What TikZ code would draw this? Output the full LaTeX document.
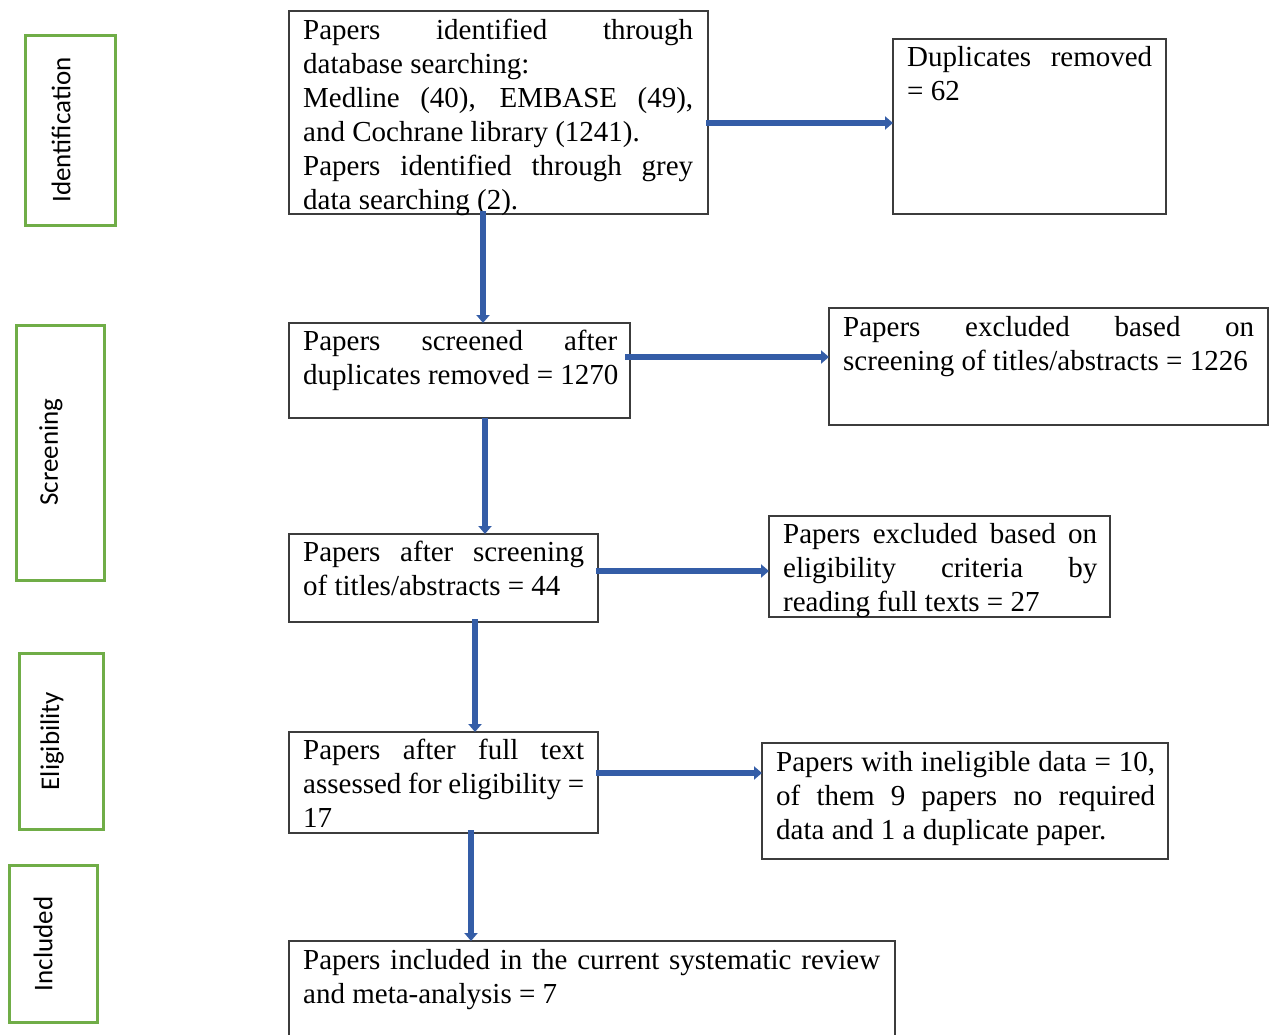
\documentclass[tikz,border=0pt]{standalone}
\usepackage{fontspec}
\setmainfont{Liberation Serif}
\newfontfamily\stagefont{Carlito}
\usetikzlibrary{arrows.meta}
\definecolor{boxgray}{RGB}{60,60,60}
\definecolor{stagegreen}{RGB}{112,173,71}
\definecolor{arrowblue}{RGB}{52,93,167}
\newcommand{\jl}[1]{{\spaceskip=0pt\xspaceskip=0pt\makebox[\hsize][s]{#1}}}
\newcommand{\nl}[1]{{\spaceskip=0pt\xspaceskip=0pt\mbox{#1}}}
\begin{document}
\begin{tikzpicture}[x=1pt,y=-1pt,
  box/.style={draw=boxgray,line width=1.3pt,inner sep=0pt,outer sep=0pt,anchor=north west},
  stagebox/.style={draw=stagegreen,line width=3pt,inner sep=0pt,outer sep=0pt,anchor=north west},
  txt/.style={inner sep=0pt,anchor=base west,align=left,font=\fontsize{29}{34}\selectfont},
  stagetxt/.style={inner sep=0pt,rotate=90,font=\stagefont\fontsize{27}{32}\selectfont},
  arr/.style={draw=arrowblue,line width=6pt,-{Triangle[width=13pt,length=8pt]}}]
\useasboundingbox (0,0) rectangle (1269,1035);

% stage boxes
\node[stagebox,minimum width=90pt,minimum height=190pt] (S1) at (25,36) {};
\node[stagetxt] (S1t) at (61,130) {Identification};
\node[stagebox,minimum width=88pt,minimum height=255pt] (S2) at (16,325) {};
\node[stagetxt] (S2t) at (51,452) {Screening};
\node[stagebox,minimum width=84pt,minimum height=176pt] (S3) at (19,653) {};
\node[stagetxt] (S3t) at (52,741) {Eligibility};
\node[stagebox,minimum width=88pt,minimum height=157pt] (S4) at (9,865) {};
\node[stagetxt] (S4t) at (43,944) {Included};

% main boxes
\node[box,minimum width=419pt,minimum height=203pt] (A) at (289,11) {};
\node[box,minimum width=273pt,minimum height=175pt] (B) at (893,39) {};
\node[box,minimum width=341pt,minimum height=95pt] (C) at (289,323) {};
\node[box,minimum width=439pt,minimum height=117pt] (D) at (829,308) {};
\node[box,minimum width=309pt,minimum height=88pt] (E) at (289,534) {};
\node[box,minimum width=341pt,minimum height=101pt] (F) at (769,516) {};
\node[box,minimum width=309pt,minimum height=101pt] (G) at (289,732) {};
\node[box,minimum width=406pt,minimum height=116pt] (H) at (762,743) {};
\node[box,minimum width=606pt,minimum height=120pt] (I) at (289,941) {};

% texts
\node[txt,text width=390pt] (At) at (303,39.5) {\jl{Papers identified through}\\\nl{database searching:}\\\jl{Medline (40), EMBASE (49),}\\\nl{and Cochrane library (1241).}\\\jl{Papers identified through grey}\\\nl{data searching (2).}};
\node[txt,text width=245pt] (Bt) at (907,67) {\jl{Duplicates removed}\\\nl{= 62}};
\node[txt,text width=314pt] (Ct) at (303,350) {\jl{Papers screened after}\\\nl{duplicates removed = 1270}};
\node[txt,text width=411pt] (Dt) at (843,336) {\jl{Papers excluded based on}\\\nl{screening of titles/abstracts = 1226}};
\node[txt,text width=281pt] (Et) at (303,561) {\jl{Papers after screening}\\\nl{of titles/abstracts = 44}};
\node[txt,text width=314pt] (Ft) at (783,543) {\jl{Papers excluded based on}\\\jl{eligibility criteria by}\\\nl{reading full texts = 27}};
\node[txt,text width=281pt] (Gt) at (303,759) {\jl{Papers after full text}\\\jl{assessed for eligibility =}\\\nl{17}};
\node[txt,text width=379pt] (Ht) at (776,771) {\jl{Papers with ineligible data = 10,}\\\jl{of them 9 papers no required}\\\nl{data and 1 a duplicate paper.}};
\node[txt,text width=577pt] (It) at (303,969) {\jl{Papers included in the current systematic review}\\\nl{and meta-analysis = 7}};

% connectors
\draw[arr] ([xshift=-2pt,yshift=-10.5pt]A.east) -- ([yshift=3.5pt]B.west);
\draw[arr] ([xshift=-15.5pt,yshift=3pt]A.south) -- ([xshift=23.5pt]C.north);
\draw[arr] ([xshift=-5pt,yshift=13.5pt]C.east) -- ([yshift=9.5pt]D.west);
\draw[arr] ([xshift=25.5pt]C.south) -- ([xshift=41.5pt]E.north);
\draw[arr] ([xshift=-2pt,yshift=7pt]E.east) -- ([yshift=-4.5pt]F.west);
\draw[arr] ([xshift=31.5pt,yshift=3pt]E.south) -- ([xshift=31.5pt]G.north);
\draw[arr] ([xshift=-2pt,yshift=9.5pt]G.east) -- ([yshift=28pt]H.west);
\draw[arr] ([xshift=27.5pt,yshift=3pt]G.south) -- ([xshift=-121pt]I.north);
\end{tikzpicture}
\end{document}
